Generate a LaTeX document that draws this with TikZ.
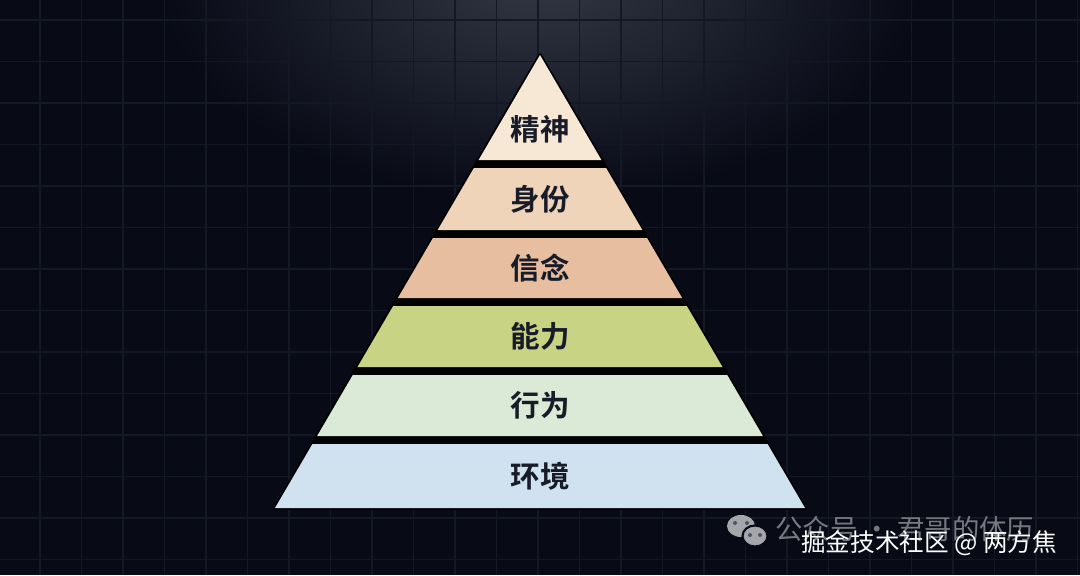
\documentclass[tikz,border=0pt]{standalone}
\usepackage{fontspec}
\usepackage{tikz}
\newfontfamily\cjk{Noto Sans CJK SC}[BoldFont={Noto Sans CJK SC Bold}]
\definecolor{bgnavy}{RGB}{8,10,22}
\definecolor{gridline}{RGB}{20,23,36}
\definecolor{glow}{RGB}{50,55,68}
\definecolor{ink}{RGB}{24,28,40}
\definecolor{layA}{RGB}{246,232,212}
\definecolor{layB}{RGB}{240,212,186}
\definecolor{layC}{RGB}{232,190,160}
\definecolor{layD}{RGB}{201,211,132}
\definecolor{layE}{RGB}{219,234,214}
\definecolor{layF}{RGB}{208,225,240}
\definecolor{markgray}{RGB}{118,120,128}
\definecolor{icongray}{RGB}{165,166,172}

\begin{document}
\begin{tikzpicture}[x=0.025cm,y=-0.025cm,
    layertext/.style={text=ink,inner sep=0pt,font=\cjk\bfseries\fontsize{21}{23}\selectfont}]
  \def\W{1080}
  \def\H{575}
  \def\ax{540}
  \def\ay{55}
  \def\sl{0.585}
  \useasboundingbox (0,0) rectangle (\W,\H);
  \fill[bgnavy] (0,0) rectangle (\W,\H);
  \begin{scope}
    \clip (0,0) rectangle (\W,\H);
    \shade[inner color=glow,outer color=bgnavy] (\ax,-20) ellipse (380 and 220);
  \end{scope}
  % grid
  \foreach \i in {0,...,25}{
     \draw[gridline,line width=1.4pt] ({40+41.5*\i},0) -- ({40+41.5*\i},\H);
  }
  \foreach \j in {0,...,13}{
     \draw[gridline,line width=1.4pt] (0,{20+41.5*\j}) -- (\W,{20+41.5*\j});
  }
  % pyramid
  \draw[black,fill=black,line width=2.5pt,line join=round]
     (\ax,\ay) -- ({\ax+\sl*(508-\ay)},508) -- ({\ax-\sl*(508-\ay)},508) -- cycle;
  \foreach \t/\b/\ty/\col/\lab/\nm in {%
     55/160/129/layA/精神/spirit,
     168/230/199/layB/身份/identity,
     238/298/268/layC/信念/belief,
     306/367/336.5/layD/能力/ability,
     375/436/405.5/layE/行为/behavior,
     444/508/476/layF/环境/environ}{
     \pgfmathsetmacro{\wt}{\sl*(\t-\ay)}
     \pgfmathsetmacro{\wb}{\sl*(\b-\ay)}
     \fill[\col] ({\ax-\wt},\t) -- ({\ax+\wt},\t) -- ({\ax+\wb},\b) -- ({\ax-\wb},\b) -- cycle;
     \node[layertext] (\nm) at (\ax,\ty) {\lab};
  }
  % watermark
  \fill[icongray] (741,526) ellipse (14 and 11);
  \draw[bgnavy,fill=icongray,line width=1.5pt] (755,536) ellipse (12.5 and 10.5);
  \foreach \dx/\dy in {735/523,747/523,750/535,760/535}{
     \fill[bgnavy!70] (\dx,\dy) circle (2);
  }
  \node[anchor=west,inner sep=0pt,text=markgray,font=\cjk\fontsize{19.5}{21}\selectfont]
     (wxname) at (775,529) {公众号 · 君哥的体历};
  \node[anchor=west,inner sep=0pt,text=white,font=\cjk\fontsize{17.5}{20}\selectfont]
     (juejin) at (801,543) {掘金技术社区 @ 两方焦};
\end{tikzpicture}
\end{document}
